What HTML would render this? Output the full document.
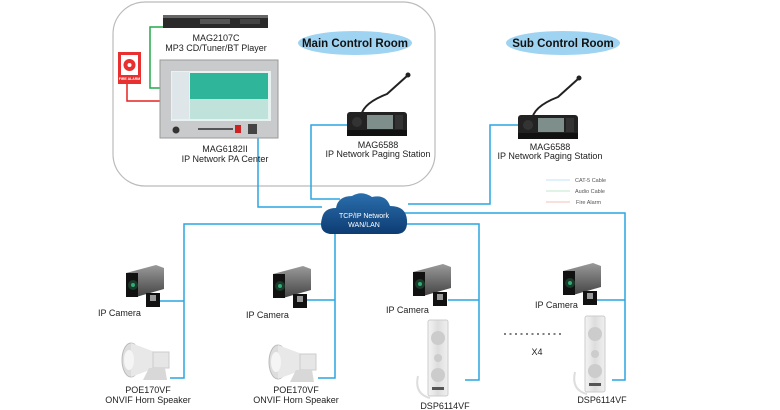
<!DOCTYPE html>
<html><head><meta charset="utf-8"><style>
html,body{margin:0;padding:0;background:#fff;}
svg{display:block;font-family:"Liberation Sans",Arial,sans-serif;}
</style></head><body>
<svg width="780" height="410" viewBox="0 0 780 410" xmlns="http://www.w3.org/2000/svg">
<defs>
<linearGradient id="cl" x1="0" y1="0" x2="0" y2="1"><stop offset="0" stop-color="#2a6fae"/><stop offset="1" stop-color="#0d3c72"/></linearGradient>
<linearGradient id="cam" x1="0" y1="0" x2="0" y2="1"><stop offset="0" stop-color="#9a9a9a"/><stop offset="1" stop-color="#444"/></linearGradient>
<linearGradient id="spk" x1="0" y1="0" x2="1" y2="0"><stop offset="0" stop-color="#f4f4f4"/><stop offset="0.5" stop-color="#ddd"/><stop offset="1" stop-color="#f0f0f0"/></linearGradient>
<g id="camera">
<path d="M0 8 L30 0 L38 3 L38 24 L10 32 L0 30 Z" fill="url(#cam)"/>
<rect x="0" y="8" width="12" height="24" fill="#111"/>
<circle cx="7" cy="20" r="5" fill="#1a3a2a"/><circle cx="7" cy="20" r="2" fill="#3a7"/>
<rect x="20" y="28" width="14" height="14" fill="#111"/>
<rect x="24" y="30" width="6" height="6" fill="#999"/>
</g>
<g id="horn">
<ellipse cx="10" cy="18" rx="9" ry="17" fill="#ddd" stroke="#bbb"/>
<path d="M10 1 L34 10 L34 26 L10 35 Z" fill="#e8e8e8"/>
<rect x="32" y="10" width="16" height="16" fill="#e6e6e6" stroke="#ccc"/>
<path d="M28 26 L22 38 L46 38 L44 26 Z" fill="#d8d8d8"/>
<ellipse cx="8" cy="18" rx="5" ry="10" fill="#f5f5f5"/>
</g>
<g id="col">
<rect x="0" y="0" width="20" height="76" rx="2" fill="url(#spk)" stroke="#ccc"/>
<circle cx="10" cy="18" r="7" fill="#ccc"/><circle cx="10" cy="38" r="4" fill="#ccc"/><circle cx="10" cy="55" r="7" fill="#ccc"/>
<rect x="4" y="67" width="12" height="3" fill="#555"/>
<path d="M-10 56 Q-14 74 2 78" fill="none" stroke="#ddd" stroke-width="2"/>
</g>
<g id="station">
<path d="M14 16 Q14 2 40 -8 L60 -26" fill="none" stroke="#222" stroke-width="2"/>
<circle cx="61" cy="-27" r="2.5" fill="#222"/>
<rect x="0" y="10" width="60" height="22" rx="3" fill="#222"/>
<rect x="0" y="28" width="60" height="6" fill="#111"/>
<rect x="20" y="13" width="26" height="14" fill="#7e8e8a"/>
<rect x="48" y="13" width="8" height="14" fill="#333"/>
<circle cx="10" cy="20" r="5" fill="#333"/>
</g>
</defs>

<rect x="113" y="2" width="322" height="184" rx="32" fill="none" stroke="#bbb" stroke-width="1.2"/>
<ellipse cx="355" cy="43" rx="57" ry="12" fill="#9fd3f2"/>
<text x="355" y="47" font-size="11.5" font-weight="bold" text-anchor="middle" fill="#111">Main Control Room</text>
<ellipse cx="563" cy="43" rx="57" ry="12" fill="#9fd3f2"/>
<text x="563" y="47" font-size="11.5" font-weight="bold" text-anchor="middle" fill="#111">Sub Control Room</text>

<g fill="none" stroke-width="1.5">
<path d="M163 27 H150 V88 H160" stroke="#22a84a"/>
<path d="M127 84 V101 H160" stroke="#e52222"/>
<g stroke="#2aa6e2">
<path d="M258 138 V207 H322"/>
<path d="M347 125 H311 V199 H340"/>
<path d="M518 125 H490 V204 H408"/>
<path d="M404 213 H625 V380 H612"/>
<path d="M325 224 H184 V378 H170"/>
<path d="M184 301 H160"/>
<path d="M335 224 V378 H318"/>
<path d="M335 300 H306"/>
<path d="M405 224 H479 V380 H465"/>
<path d="M479 300 H448"/>
<path d="M625 300 H596"/>
</g>
</g>

<rect x="163" y="15" width="105" height="13" fill="#2a2a2a"/>
<rect x="163" y="15" width="105" height="3" fill="#666"/>
<rect x="200" y="19" width="30" height="5" fill="#555"/>
<rect x="240" y="19" width="20" height="5" fill="#444"/>
<text x="216" y="41" font-size="9" text-anchor="middle" fill="#222">MAG2107C</text>
<text x="216" y="51" font-size="9" text-anchor="middle" fill="#222">MP3 CD/Tuner/BT Player</text>

<rect x="118" y="52" width="23" height="32" fill="#e83030"/>
<rect x="121" y="55" width="17" height="20" fill="#fff"/>
<circle cx="129.5" cy="65" r="6" fill="#e83030"/><circle cx="129.5" cy="65" r="2" fill="#fff"/>
<text x="129.5" y="80" font-size="3.5" fill="#fff" text-anchor="middle" font-weight="bold">FIRE ALARM</text>

<rect x="160" y="60" width="118" height="78" fill="#c9cacc" stroke="#999"/>
<rect x="171" y="71" width="100" height="50" fill="#e8f2f0"/>
<rect x="190" y="73" width="78" height="26" fill="#2fb59a"/>
<rect x="190" y="99" width="78" height="20" fill="#bfe3da"/>
<rect x="172" y="72" width="17" height="47" fill="#dfe6ea"/>
<circle cx="176" cy="130" r="3.5" fill="#333"/>
<rect x="198" y="128" width="35" height="2" fill="#555"/>
<rect x="235" y="125" width="6" height="8" fill="#c22"/>
<rect x="248" y="124" width="9" height="10" fill="#444"/>
<text x="225" y="152" font-size="9" text-anchor="middle" fill="#222">MAG6182II</text>
<text x="225" y="162" font-size="9" text-anchor="middle" fill="#222">IP Network PA Center</text>

<use href="#station" x="347" y="102"/>
<text x="378" y="148" font-size="9" text-anchor="middle" fill="#222">MAG6588</text>
<text x="378" y="157" font-size="9" text-anchor="middle" fill="#222">IP Network Paging  Station</text>
<use href="#station" x="518" y="105"/>
<text x="550" y="150" font-size="9" text-anchor="middle" fill="#222">MAG6588</text>
<text x="550" y="159" font-size="9" text-anchor="middle" fill="#222">IP Network Paging  Station</text>

<g stroke-width="1">
<line x1="546" y1="180" x2="570" y2="180" stroke="#bfe3f6"/>
<line x1="546" y1="191" x2="570" y2="191" stroke="#bfe8cf"/>
<line x1="546" y1="202" x2="570" y2="202" stroke="#f5c2b8"/>
</g>
<text x="575" y="182" font-size="5.5" fill="#555">CAT-5 Cable</text>
<text x="575" y="193" font-size="5.5" fill="#555">Audio Cable</text>
<text x="576" y="204" font-size="5.5" fill="#555">Fire Alarm</text>

<path d="M330 234 Q318 232 322 218 Q324 208 336 208 Q338 196 352 196 Q362 190 372 197 Q386 194 390 206 Q406 206 407 220 Q408 234 396 234 Z" fill="url(#cl)"/>
<text x="364" y="218" font-size="7" fill="#fff" text-anchor="middle">TCP/IP Network</text>
<text x="364" y="227" font-size="7" fill="#fff" text-anchor="middle">WAN/LAN</text>

<use href="#camera" x="126" y="265"/>
<use href="#camera" x="273" y="266"/>
<use href="#camera" x="413" y="264"/>
<use href="#camera" x="563" y="263"/>
<g font-size="9" fill="#222">
<text x="98" y="316">IP Camera</text>
<text x="246" y="318">IP Camera</text>
<text x="386" y="313">IP Camera</text>
<text x="535" y="308">IP Camera</text>
</g>

<use href="#horn" x="121" y="342"/>
<use href="#horn" x="268" y="344"/>
<g font-size="9" fill="#222" text-anchor="middle">
<text x="148" y="393">POE170VF</text>
<text x="148" y="403">ONVIF Horn Speaker</text>
<text x="296" y="393">POE170VF</text>
<text x="296" y="403">ONVIF Horn Speaker</text>
<text x="445" y="409">DSP6114VF</text>
<text x="602" y="403">DSP6114VF</text>
<text x="537" y="355">X4</text>
</g>
<use href="#col" x="428" y="320"/>
<use href="#col" x="585" y="316"/>
<line x1="504" y1="334" x2="562" y2="334" stroke="#333" stroke-width="1.2" stroke-dasharray="2,3.5"/>
</svg>
</body></html>
